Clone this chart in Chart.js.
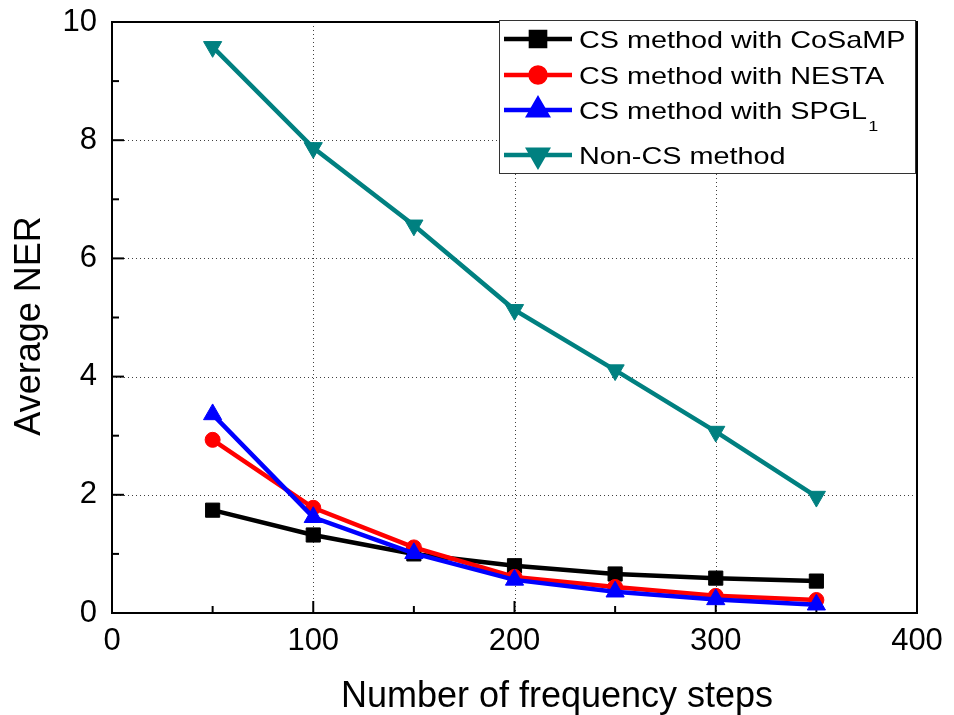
<!DOCTYPE html>
<html>
<head>
<meta charset="utf-8">
<script src="https://cdn.jsdelivr.net/npm/chart.js@4/dist/chart.umd.min.js"></script>
<style>
  html, body { margin: 0; padding: 0; background: #fff; }
  #wrap { width: 954px; height: 715px; }
</style>
</head>
<body>
<div id="wrap"><canvas id="c" width="954" height="715"></canvas></div>
<script>
// Number of frequency steps (x) and average NER per method (y)
const steps = [50, 100, 150, 200, 250, 300, 350];
const cosamp = [1.74, 1.32, 1.00, 0.80, 0.66, 0.59, 0.54];
const nesta = [2.93, 1.78, 1.11, 0.61, 0.44, 0.29, 0.22];
const spgl1 = [3.36, 1.62, 1.01, 0.56, 0.36, 0.23, 0.14];
const nonCS = [9.58, 7.87, 6.56, 5.13, 4.11, 3.07, 1.97];

const seriesNames = ['CS method with CoSaMP', 'CS method with NESTA', 'CS method with SPGL', 'Non-CS method'];
const seriesSub = ['', '', '1', ''];
const xTicks = [0, 100, 200, 300, 400];
const yTicks = [0, 2, 4, 6, 8, 10];
const xTitle = 'Number of frequency steps';
const yTitle = 'Average NER';

const FONT = '"Liberation Sans", Arial, sans-serif';

function pts(vals) { return steps.map((s, i) => ({ x: s, y: vals[i] })); }

function ds(label, vals, color, style, radius, rotation, order) {
  return {
    label, data: pts(vals),
    borderColor: color, backgroundColor: color,
    pointBackgroundColor: color, pointBorderColor: color,
    borderWidth: 4.5, pointStyle: style, pointRadius: radius,
    pointHoverRadius: radius, pointRotation: rotation, pointBorderWidth: 1,
    tension: 0, order
  };
}

// Frame, dotted grid, inward ticks, axis titles and the boxed legend
const framePlugin = {
  id: 'frame',
  beforeDatasetsDraw(chart) {
    const { ctx, chartArea: a, scales: { x, y } } = chart;
    ctx.save();
    ctx.strokeStyle = 'rgba(0,0,0,0.75)';
    ctx.lineWidth = 1;
    ctx.setLineDash([1, 3]);
    xTicks.slice(1, -1).forEach(v => {
      const px = Math.round(x.getPixelForValue(v)) + 0.5;
      ctx.beginPath(); ctx.moveTo(px, a.top); ctx.lineTo(px, a.bottom); ctx.stroke();
    });
    yTicks.slice(1, -1).forEach(v => {
      const py = Math.round(y.getPixelForValue(v)) + 0.5;
      ctx.beginPath(); ctx.moveTo(a.left, py); ctx.lineTo(a.right, py); ctx.stroke();
    });
    ctx.setLineDash([]);
    ctx.strokeStyle = '#000';
    ctx.lineWidth = 2;
    // major and minor ticks pointing inward
    for (let v = 0; v <= 400; v += 50) {
      const px = x.getPixelForValue(v);
      const len = v % 100 === 0 ? 12 : 7;
      ctx.beginPath(); ctx.moveTo(px, a.bottom); ctx.lineTo(px, a.bottom - len); ctx.stroke();
    }
    for (let v = 0; v <= 10; v += 1) {
      const py = y.getPixelForValue(v);
      const len = v % 2 === 0 ? 12 : 7;
      ctx.beginPath(); ctx.moveTo(a.left, py); ctx.lineTo(a.left + len, py); ctx.stroke();
    }
    ctx.strokeRect(a.left, a.top, a.right - a.left, a.bottom - a.top);
    ctx.restore();
  },
  afterDraw(chart) {
    const { ctx, chartArea: a } = chart;
    ctx.save();
    // axis titles
    ctx.fillStyle = '#000';
    ctx.textAlign = 'center';
    ctx.textBaseline = 'alphabetic';
    ctx.font = '36px ' + FONT;
    ctx.fillText(xTitle, 557, 707);
    ctx.save();
    ctx.translate(40, 326);
    ctx.rotate(-Math.PI / 2);
    ctx.fillText(yTitle, 0, 0);
    ctx.restore();

    // legend box
    const lx = 499, ly = 20, lw = a.right - 2 - lx, lh = 153;
    ctx.fillStyle = '#fff';
    ctx.fillRect(lx, ly, lw, lh);
    ctx.strokeStyle = '#333';
    ctx.lineWidth = 1;
    ctx.strokeRect(lx + 0.5, ly + 0.5, lw, lh);
    const rows = [39, 75, 110, 155];
    chart.data.datasets.forEach((d, i) => {
      const yy = rows[i];
      ctx.strokeStyle = d.borderColor;
      ctx.lineWidth = 4.5;
      ctx.beginPath(); ctx.moveTo(504, yy); ctx.lineTo(572, yy); ctx.stroke();
      ctx.fillStyle = d.borderColor;
      Chart.helpers.drawPoint(ctx, {
        pointStyle: d.pointStyle, radius: d.pointRadius, rotation: d.pointRotation,
        borderWidth: 1
      }, 538, yy);
      ctx.fillStyle = '#000';
      ctx.textAlign = 'left';
      ctx.textBaseline = 'alphabetic';
      ctx.save();
      ctx.translate(579, yy + 9);
      ctx.scale(1.2, 1);
      ctx.font = '24px ' + FONT;
      ctx.fillText(seriesNames[i], 0, 0);
      if (seriesSub[i]) {
        const w = ctx.measureText(seriesNames[i]).width;
        ctx.font = '15px ' + FONT;
        ctx.fillText(seriesSub[i], w + 1, 12);
      }
      ctx.restore();
    });
    ctx.restore();
  }
};

new Chart(document.getElementById('c'), {
  type: 'line',
  data: {
    datasets: [
      ds(seriesNames[0], cosamp, '#000000', 'rect', 10, 0, 4),
      ds(seriesNames[1], nesta, '#ff0000', 'circle', 7.5, 0, 3),
      ds(seriesNames[2] + seriesSub[2], spgl1, '#0000ff', 'triangle', 10.5, 0, 2),
      ds(seriesNames[3], nonCS, '#008080', 'triangle', 10.5, 180, 1)
    ]
  },
  options: {
    responsive: false,
    animation: false,
    events: [],
    layout: { padding: { left: 0, top: 22, right: 37, bottom: 0 } },
    plugins: { legend: { display: false }, tooltip: { enabled: false } },
    scales: {
      x: {
        type: 'linear', min: 0, max: 400,
        afterFit(s) { s.height = 102; s.paddingLeft = 0; s.paddingRight = 0; },
        afterBuildTicks(s) { s.ticks = xTicks.map(v => ({ value: v })); },
        grid: { display: false, drawTicks: false },
        border: { display: false },
        ticks: { autoSkip: false, maxRotation: 0, padding: 10, color: '#000', font: { family: FONT, size: 31 } }
      },
      y: {
        type: 'linear', min: 0, max: 10,
        afterFit(s) { s.width = 112; s.paddingTop = 0; s.paddingBottom = 0; },
        afterBuildTicks(s) { s.ticks = yTicks.map(v => ({ value: v })); },
        grid: { display: false, drawTicks: false },
        border: { display: false },
        ticks: { autoSkip: false, padding: 15, color: '#000', font: { family: FONT, size: 31 } }
      }
    }
  },
  plugins: [framePlugin]
});
</script>
</body>
</html>
